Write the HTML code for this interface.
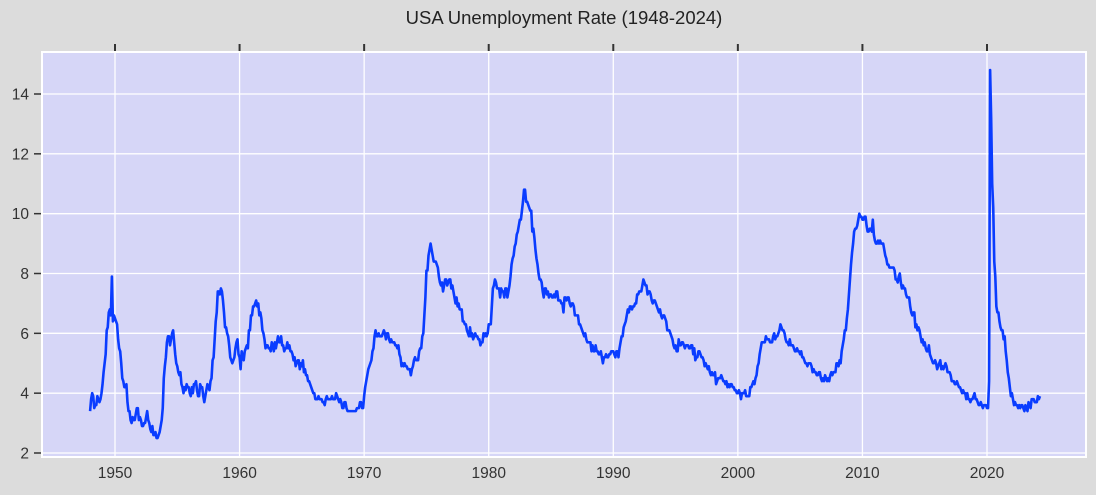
<!DOCTYPE html>
<html><head><meta charset="utf-8"><style>
body{margin:0;background:#dcdcdc;width:1096px;height:495px;overflow:hidden}
svg{display:block;font-family:"Liberation Sans","DejaVu Sans",sans-serif}
</style></head><body>
<svg id="chart" width="1096" height="495">
<rect x="0" y="0" width="1096" height="495" fill="#dcdcdc"/>
<text x="564" y="24" text-anchor="middle" font-size="18.5" fill="#222">USA Unemployment Rate (1948-2024)</text>
<rect x="42" y="52" width="1044" height="405" fill="#d6d6f7" stroke="#fff" stroke-width="2"/>
<g id="grid"></g><g id="axes"></g><g id="series"></g>
</svg>
<script>
const startYear = 1948;
const rates = [
[3.4,3.8,4.0,3.9,3.5,3.6,3.6,3.9,3.8,3.7,3.8,4.0],
[4.3,4.7,5.0,5.3,6.1,6.2,6.7,6.8,6.6,7.9,6.4,6.6],
[6.5,6.4,6.3,5.8,5.5,5.4,5.0,4.5,4.4,4.2,4.2,4.3],
[3.7,3.4,3.4,3.1,3.0,3.2,3.1,3.1,3.3,3.5,3.5,3.1],
[3.2,3.1,2.9,2.9,3.0,3.0,3.2,3.4,3.1,3.0,2.8,2.7],
[2.9,2.6,2.6,2.7,2.5,2.5,2.6,2.7,2.9,3.1,3.5,4.5],
[4.9,5.2,5.7,5.9,5.9,5.6,5.8,6.0,6.1,5.7,5.3,5.0],
[4.9,4.7,4.6,4.7,4.3,4.2,4.0,4.2,4.1,4.3,4.2,4.2],
[4.0,3.9,4.2,4.0,4.3,4.3,4.4,4.1,3.9,3.9,4.3,4.2],
[4.2,3.9,3.7,3.9,4.1,4.3,4.2,4.1,4.4,4.5,5.1,5.2],
[5.8,6.4,6.7,7.4,7.4,7.3,7.5,7.4,7.1,6.7,6.2,6.2],
[6.0,5.9,5.6,5.2,5.1,5.0,5.1,5.2,5.5,5.7,5.8,5.3],
[5.2,4.8,5.4,5.2,5.1,5.4,5.5,5.6,5.5,6.1,6.1,6.6],
[6.6,6.9,6.9,7.0,7.1,6.9,7.0,6.6,6.7,6.5,6.1,6.0],
[5.8,5.5,5.6,5.6,5.5,5.5,5.4,5.7,5.6,5.4,5.7,5.5],
[5.7,5.9,5.7,5.7,5.9,5.6,5.6,5.4,5.5,5.5,5.7,5.5],
[5.6,5.4,5.4,5.3,5.1,5.2,4.9,5.0,5.1,5.1,4.8,5.0],
[4.9,5.1,4.7,4.8,4.6,4.6,4.4,4.4,4.3,4.2,4.1,4.0],
[4.0,3.8,3.8,3.8,3.9,3.8,3.8,3.8,3.7,3.7,3.6,3.8],
[3.9,3.8,3.8,3.8,3.8,3.9,3.8,3.8,3.8,4.0,3.9,3.8],
[3.7,3.8,3.7,3.5,3.5,3.7,3.7,3.5,3.4,3.4,3.4,3.4],
[3.4,3.4,3.4,3.4,3.4,3.5,3.5,3.5,3.7,3.7,3.5,3.5],
[3.9,4.2,4.4,4.6,4.8,4.9,5.0,5.1,5.4,5.5,5.9,6.1],
[5.9,5.9,6.0,5.9,5.9,5.9,6.0,6.1,6.0,5.8,6.0,6.0],
[5.8,5.7,5.8,5.7,5.7,5.7,5.6,5.6,5.5,5.6,5.3,5.2],
[4.9,5.0,4.9,5.0,4.9,4.9,4.8,4.8,4.8,4.6,4.8,4.9],
[5.1,5.2,5.1,5.1,5.1,5.4,5.5,5.5,5.9,6.0,6.6,7.2],
[8.1,8.1,8.6,8.8,9.0,8.8,8.6,8.4,8.4,8.4,8.3,8.2],
[7.9,7.7,7.6,7.7,7.4,7.6,7.8,7.8,7.6,7.7,7.8,7.8],
[7.5,7.6,7.4,7.2,7.0,7.2,6.9,7.0,6.8,6.8,6.8,6.4],
[6.4,6.3,6.3,6.1,6.0,5.9,6.2,5.9,6.0,5.8,5.9,6.0],
[5.9,5.9,5.8,5.8,5.6,5.7,5.7,6.0,5.9,6.0,5.9,6.0],
[6.3,6.3,6.3,6.9,7.5,7.6,7.8,7.7,7.5,7.5,7.5,7.2],
[7.5,7.4,7.4,7.2,7.5,7.5,7.2,7.4,7.6,7.9,8.3,8.5],
[8.6,8.9,9.0,9.3,9.4,9.6,9.8,9.8,10.1,10.4,10.8,10.8],
[10.4,10.4,10.3,10.2,10.1,10.1,9.4,9.5,9.2,8.8,8.5,8.3],
[8.0,7.8,7.8,7.7,7.4,7.2,7.5,7.5,7.3,7.4,7.2,7.3],
[7.3,7.2,7.2,7.3,7.2,7.4,7.4,7.1,7.1,7.1,7.0,7.0],
[6.7,7.2,7.2,7.1,7.2,7.2,7.0,6.9,7.0,7.0,6.9,6.6],
[6.6,6.6,6.6,6.3,6.3,6.2,6.1,6.0,5.9,6.0,5.8,5.7],
[5.7,5.7,5.7,5.4,5.6,5.4,5.4,5.6,5.4,5.4,5.3,5.3],
[5.4,5.2,5.0,5.2,5.2,5.3,5.2,5.2,5.3,5.3,5.4,5.4],
[5.4,5.3,5.2,5.4,5.4,5.2,5.5,5.7,5.9,5.9,6.2,6.3],
[6.4,6.6,6.8,6.7,6.9,6.9,6.8,6.9,6.9,7.0,7.0,7.3],
[7.3,7.4,7.4,7.4,7.6,7.8,7.7,7.6,7.6,7.3,7.4,7.4],
[7.3,7.1,7.0,7.1,7.1,7.0,6.9,6.8,6.7,6.8,6.6,6.5],
[6.6,6.6,6.5,6.4,6.1,6.1,6.1,6.0,5.9,5.8,5.6,5.5],
[5.6,5.4,5.4,5.8,5.6,5.6,5.7,5.7,5.6,5.5,5.6,5.6],
[5.6,5.5,5.5,5.6,5.6,5.3,5.5,5.1,5.2,5.2,5.4,5.4],
[5.3,5.2,5.2,5.1,4.9,5.0,4.9,4.8,4.9,4.7,4.6,4.7],
[4.6,4.6,4.7,4.3,4.4,4.5,4.5,4.5,4.6,4.5,4.4,4.4],
[4.3,4.4,4.2,4.3,4.2,4.3,4.3,4.2,4.2,4.1,4.1,4.0],
[4.0,4.1,4.0,3.8,4.0,4.0,4.0,4.1,3.9,3.9,3.9,3.9],
[4.2,4.2,4.3,4.4,4.3,4.5,4.6,4.9,5.0,5.3,5.5,5.7],
[5.7,5.7,5.7,5.9,5.8,5.8,5.8,5.7,5.7,5.7,5.9,6.0],
[5.8,5.9,5.9,6.0,6.1,6.3,6.2,6.1,6.1,6.0,5.8,5.7],
[5.7,5.6,5.8,5.6,5.6,5.6,5.5,5.4,5.4,5.5,5.4,5.4],
[5.3,5.4,5.2,5.2,5.1,5.0,5.0,4.9,5.0,5.0,5.0,4.9],
[4.7,4.8,4.7,4.7,4.6,4.6,4.7,4.7,4.5,4.4,4.5,4.4],
[4.6,4.5,4.4,4.5,4.4,4.6,4.7,4.6,4.7,4.7,4.7,5.0],
[5.0,4.9,5.1,5.0,5.4,5.6,5.8,6.1,6.1,6.5,6.8,7.3],
[7.8,8.3,8.7,9.0,9.4,9.5,9.5,9.6,9.8,10.0,9.9,9.9],
[9.8,9.8,9.9,9.9,9.6,9.4,9.4,9.5,9.5,9.4,9.8,9.3],
[9.1,9.0,9.0,9.1,9.0,9.1,9.0,9.0,9.0,8.8,8.6,8.5],
[8.3,8.3,8.2,8.2,8.2,8.2,8.2,8.1,7.8,7.8,7.7,7.9],
[8.0,7.7,7.5,7.6,7.5,7.5,7.3,7.2,7.2,7.2,6.9,6.7],
[6.6,6.7,6.7,6.2,6.3,6.1,6.2,6.1,5.9,5.7,5.8,5.6],
[5.7,5.5,5.4,5.4,5.6,5.3,5.2,5.1,5.0,5.0,5.1,5.0],
[4.8,4.9,5.0,5.1,4.8,4.9,4.8,4.9,5.0,4.9,4.7,4.7],
[4.7,4.6,4.4,4.4,4.4,4.3,4.3,4.4,4.3,4.2,4.2,4.1],
[4.0,4.1,4.0,4.0,3.8,4.0,3.8,3.8,3.7,3.8,3.8,3.9],
[4.0,3.8,3.8,3.7,3.6,3.6,3.7,3.6,3.5,3.6,3.6,3.6],
[3.5,3.5,4.4,14.8,13.2,11.0,10.2,8.4,7.9,6.9,6.7,6.7],
[6.4,6.2,6.1,6.1,5.8,5.9,5.4,5.1,4.7,4.5,4.2,3.9],
[4.0,3.8,3.6,3.7,3.6,3.6,3.5,3.6,3.5,3.6,3.6,3.5],
[3.4,3.6,3.5,3.4,3.7,3.6,3.5,3.8,3.8,3.8,3.7,3.7],
[3.7,3.9,3.8,3.9]
];
const xTicks = [1950,1960,1970,1980,1990,2000,2010,2020];
const yTicks = [2,4,6,8,10,12,14];

const NS = "http://www.w3.org/2000/svg";
const xScale = t => 115 + (t - 1950) * (872 / 70);
const yScale = v => 453 - (v - 2) * (359 / 12);
function mk(tag, attrs, parent){const e=document.createElementNS(NS,tag);for(const k in attrs)e.setAttribute(k,attrs[k]);parent.appendChild(e);return e;}
const grid=document.getElementById('grid'), axes=document.getElementById('axes'), series=document.getElementById('series');

xTicks.forEach(y=>{
  const x=xScale(y);
  const g=mk('line',{x1:x,x2:x,y1:52,y2:457,stroke:'#fff','stroke-width':1.3},grid);
  
  
  const tk=mk('line',{x1:x,x2:x,y1:44,y2:51,stroke:'#333','stroke-width':2},axes);
  
  
  const t=mk('text',{x:x,y:478,'text-anchor':'middle','font-size':15.5,fill:'#333'},axes);
  t.textContent=y;
  
  
});
yTicks.forEach(v=>{
  const y=yScale(v);
  const g=mk('line',{x1:42,x2:1086,y1:y,y2:y,stroke:'#fff','stroke-width':1.3},grid);
  
  
  const tk=mk('line',{x1:34,x2:41,y1:y,y2:y,stroke:'#333','stroke-width':1.5},axes);
  
  
  const t=mk('text',{x:29,y:y+5.5,'text-anchor':'end','font-size':15.5,fill:'#333'},axes);
  t.textContent=v;
  
  
});
const pts=[];
rates.forEach((row,i)=>row.forEach((v,m)=>{pts.push(xScale(startYear+i+m/12).toFixed(2)+','+yScale(v).toFixed(2));}));
const line=mk('polyline',{points:pts.join(' '),fill:'none',stroke:'#0a3cff','stroke-width':2.6,'stroke-linejoin':'round'},series);


</script>
</body></html>
